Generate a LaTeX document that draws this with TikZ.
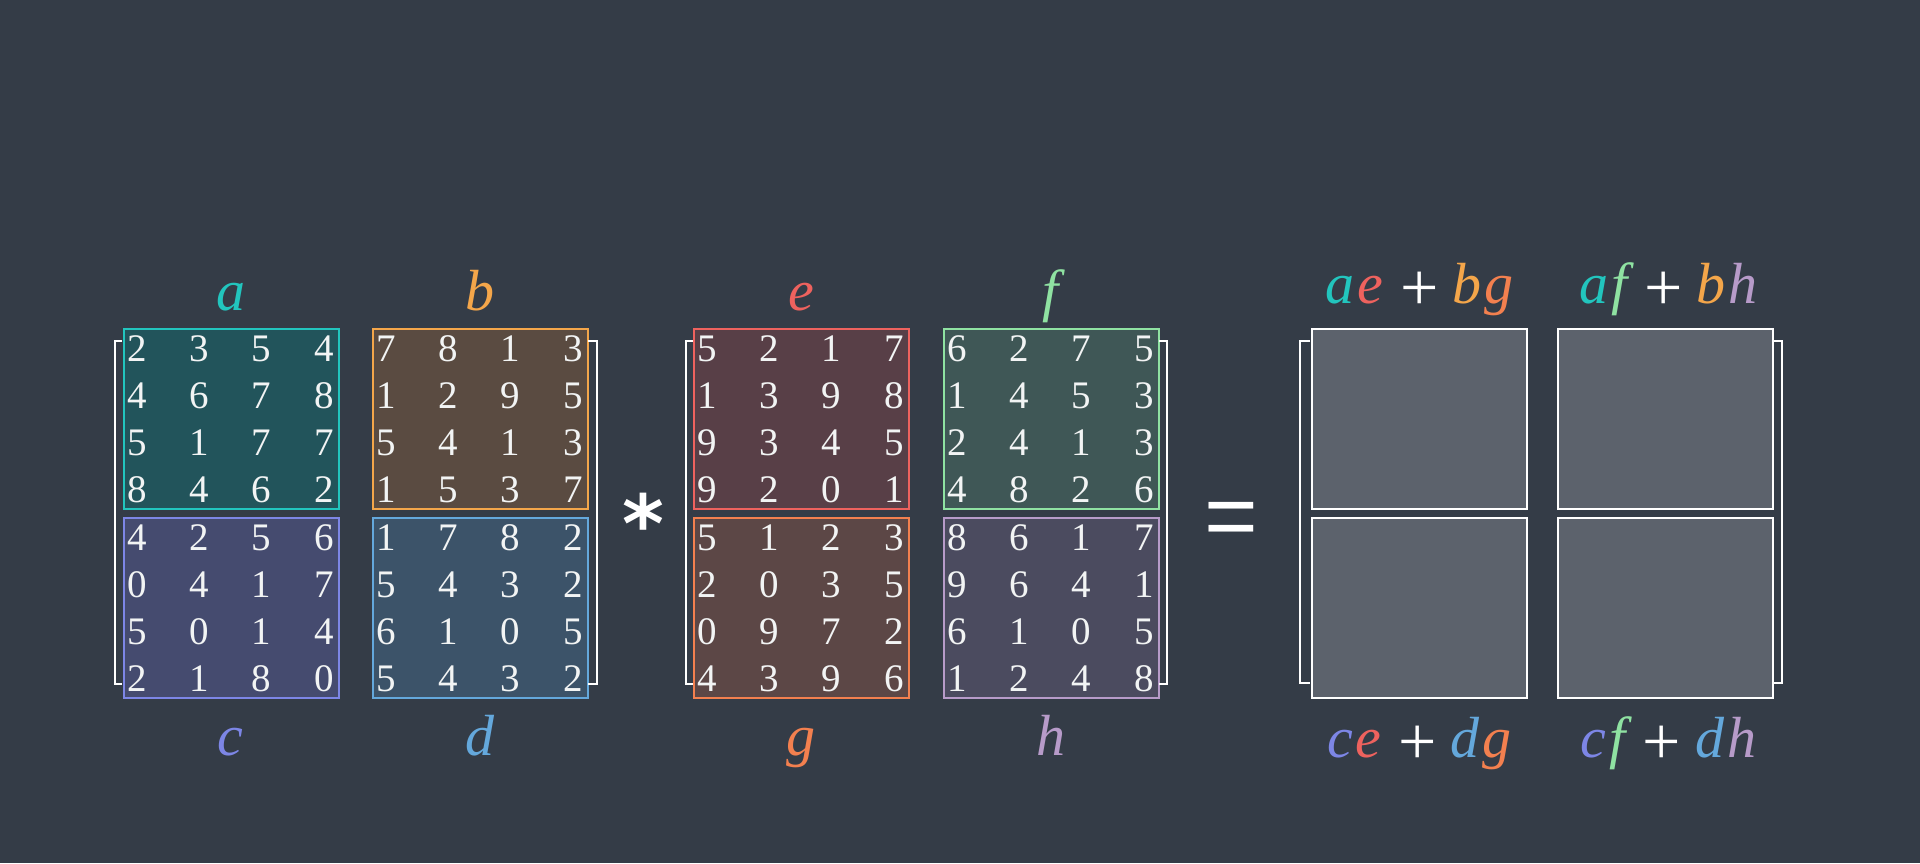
\documentclass[tikz,border=0pt]{standalone}
\usepackage{fontspec}
\setmainfont{Liberation Serif}
\newfontfamily\sansf{Liberation Sans}
\newfontfamily\djv{DejaVu Sans}
\usetikzlibrary{calc}
\definecolor{bg}{HTML}{343C47}
\definecolor{digc}{HTML}{F2F4F4}
\definecolor{ca}{HTML}{22C5BE}\definecolor{cafill}{HTML}{22545B}
\definecolor{cb}{HTML}{F4A64A}\definecolor{cbfill}{HTML}{5A4B41}
\definecolor{cc}{HTML}{7D86E6}\definecolor{ccfill}{HTML}{454B6F}
\definecolor{cd}{HTML}{64A8DC}\definecolor{cdfill}{HTML}{3C5369}
\definecolor{ce}{HTML}{EE625E}\definecolor{cefill}{HTML}{583F47}
\definecolor{cf}{HTML}{8FE2A2}\definecolor{cffill}{HTML}{3F5756}
\definecolor{cg}{HTML}{F3804F}\definecolor{cgfill}{HTML}{5C4746}
\definecolor{ch}{HTML}{B79BC9}\definecolor{chfill}{HTML}{4B4B5F}
\definecolor{resfill}{HTML}{5C626C}
\tikzset{
  blk/.style={rectangle, inner sep=0pt, line width=1pt, minimum width=107.5pt, minimum height=90pt, anchor=north west},
  resbox/.style={blk, draw=white, fill=resfill},
  dig/.style={inner sep=0pt, text=digc, font=\fontsize{19.5pt}{20pt}\selectfont},
  lbl/.style={inner sep=0pt, anchor=base, font=\fontsize{29pt}{30pt}\selectfont\itshape},
  brk/.style={draw=white, line width=1.4pt},
  opsym/.style={inner sep=0pt, text=white}
}
\newcommand\Blk[4]{%
  \node[blk, draw=#2, fill=#2fill] (#1) at #3 {};
  \foreach \row [count=\j from 0] in {#4} {
    \foreach \d [count=\i from 0] in \row {
      \node[dig] (#1-\j-\i) at ($(#1.north west)+(14+62.3*\i,21+47*\j)$) {\d};
    }
  }%
}
\newcommand\Pl{\hspace{7pt}\raisebox{-3.5pt}{\upshape\fontsize{34pt}{34pt}\selectfont\textcolor{white}{+}}\hspace{7pt}}
\newcommand\Lt[2]{\textcolor{#1}{#2}\kern1.5pt}
\begin{document}
\begin{tikzpicture}[x=0.5pt,y=-0.5pt]
\fill[bg] (0,0) rectangle (1920,863);
\useasboundingbox (0,0) rectangle (1920,863);

% first matrix
\Blk{A}{ca}{(123,328)}{{2,3,5,4},{4,6,7,8},{5,1,7,7},{8,4,6,2}}
\Blk{C}{cc}{(123,517)}{{4,2,5,6},{0,4,1,7},{5,0,1,4},{2,1,8,0}}
\Blk{B}{cb}{(372,328)}{{7,8,1,3},{1,2,9,5},{5,4,1,3},{1,5,3,7}}
\Blk{D}{cd}{(372,517)}{{1,7,8,2},{5,4,3,2},{6,1,0,5},{5,4,3,2}}
\draw[brk] (122,341) -- (115,341) -- (115,684) -- (122,684);
\draw[brk] (588,341) -- (597,341) -- (597,684) -- (588,684);

% second matrix
\Blk{E}{ce}{(693,328)}{{5,2,1,7},{1,3,9,8},{9,3,4,5},{9,2,0,1}}
\Blk{G}{cg}{(693,517)}{{5,1,2,3},{2,0,3,5},{0,9,7,2},{4,3,9,6}}
\Blk{F}{cf}{(943,328)}{{6,2,7,5},{1,4,5,3},{2,4,1,3},{4,8,2,6}}
\Blk{H}{ch}{(943,517)}{{8,6,1,7},{9,6,4,1},{6,1,0,5},{1,2,4,8}}
\draw[brk] (693,341) -- (686,341) -- (686,684) -- (693,684);
\draw[brk] (1159,341) -- (1167,341) -- (1167,684) -- (1159,684);

% result matrix
\node[resbox] (R11) at (1311,328) {};
\node[resbox] (R21) at (1311,517) {};
\node[resbox] (R12) at (1557,328) {};
\node[resbox] (R22) at (1557,517) {};
\draw[brk] (1310,341) -- (1300,341) -- (1300,683) -- (1310,683);
\draw[brk] (1772,341) -- (1782,341) -- (1782,683) -- (1772,683);

% block labels
\node[lbl, text=ca] (la) at (230.5,310) {a};
\node[lbl, text=cb] (lb) at (479.5,310) {b};
\node[lbl, text=cc] (lc) at (230.5,755) {c};
\node[lbl, text=cd] (ld) at (479.5,755) {d};
\node[lbl, text=ce] (le) at (801,310) {e};
\node[lbl, text=cf] (lf) at (1051,310) {f};
\node[lbl, text=cg] (lg) at (801,755) {g};
\node[lbl, text=ch] (lh) at (1051,755) {h};

% result labels
\node[lbl] (l11) at (1421,303) {\Lt{ca}{a}\Lt{ce}{e}\Pl\Lt{cb}{b}\Lt{cg}{g}};
\node[lbl] (l12) at (1670,303) {\Lt{ca}{a}\Lt{cf}{f}\Pl\Lt{cb}{b}\Lt{ch}{h}};
\node[lbl] (l21) at (1421,757) {\Lt{cc}{c}\Lt{ce}{e}\Pl\Lt{cd}{d}\Lt{cg}{g}};
\node[lbl] (l22) at (1670,757) {\Lt{cc}{c}\Lt{cf}{f}\Pl\Lt{cd}{d}\Lt{ch}{h}};

% operators
\node[opsym, font=\djv\bfseries\fontsize{40pt}{40pt}\selectfont, anchor=base] (mul) at (643,552) {*};
\node[opsym, font=\sansf\fontsize{46pt}{46pt}\selectfont] (eq) at (1231,525) {=};
\end{tikzpicture}
\end{document}
